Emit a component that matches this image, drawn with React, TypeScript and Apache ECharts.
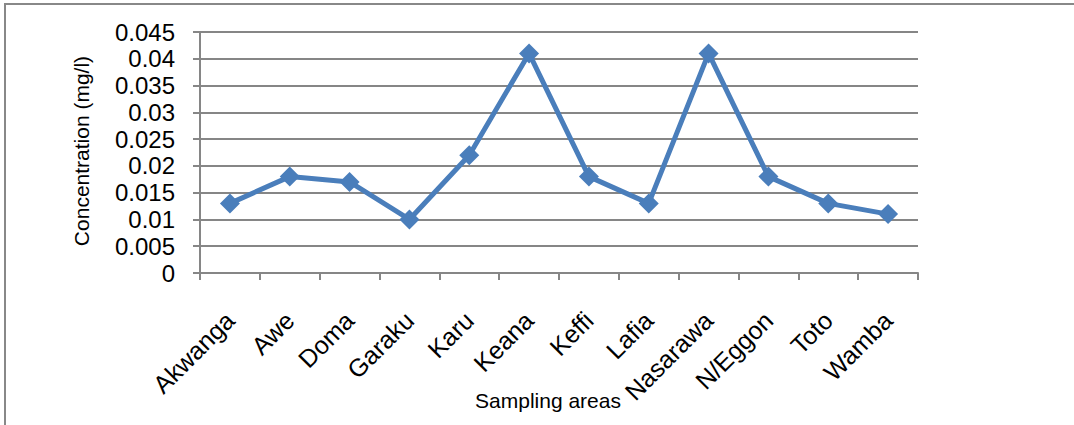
import React, { useEffect, useRef } from "react";
import * as echarts from "echarts";

const categories = ["Akwanga", "Awe", "Doma", "Garaku", "Karu", "Keana", "Keffi", "Lafia", "Nasarawa", "N/Eggon", "Toto", "Wamba"];
const concentration = [0.013, 0.018, 0.017, 0.010, 0.022, 0.041, 0.018, 0.013, 0.041, 0.018, 0.013, 0.011];
const yTicks = { min: 0, max: 0.045, interval: 0.005 };
const yTitle = "Concentration (mg/l)";
const xTitle = "Sampling areas";

export default function App() {
  const ref = useRef<HTMLDivElement>(null);
  useEffect(() => {
    if (!ref.current) return;
    const chart = echarts.init(ref.current, undefined, { renderer: "svg" });
    const font = "'Liberation Sans', Arial, sans-serif";
    chart.setOption({
      animation: false,
      backgroundColor: "#ffffff",
      grid: { left: 200, right: 156, top: 32, bottom: 152, containLabel: false },
      xAxis: {
        type: "category",
        data: categories,
        boundaryGap: true,
        axisLine: { lineStyle: { color: "#868686", width: 2 } },
        axisTick: { show: true, length: 7, alignWithLabel: false, lineStyle: { color: "#868686", width: 2 } },
        axisLabel: { rotate: 45, fontSize: 25, color: "#000", fontFamily: font, margin: 43, interval: 0 },
        splitLine: { show: false },
      },
      yAxis: {
        type: "value",
        min: yTicks.min,
        max: yTicks.max,
        interval: yTicks.interval,
        axisLine: { show: true, lineStyle: { color: "#868686", width: 2 } },
        axisTick: { show: true, length: 7, lineStyle: { color: "#868686", width: 2 } },
        axisLabel: {
          fontSize: 24,
          color: "#000",
          fontFamily: font,
          margin: 25,
          formatter: (v: number) => String(parseFloat(v.toFixed(3))),
        },
        splitLine: { show: true, lineStyle: { color: "#868686", width: 2 } },
      },
      graphic: [
        {
          type: "rect",
          shape: { x: 5, y: 4, width: 1200, height: 600 },
          style: { fill: "none", stroke: "#888888", lineWidth: 2 },
          silent: true,
        },
        {
          type: "text",
          x: 81,
          y: 151,
          rotation: Math.PI / 2,
          style: { text: yTitle, fontSize: 21, fontFamily: font, fill: "#000", align: "center", verticalAlign: "middle" },
        },
        {
          type: "text",
          x: 548,
          y: 400,
          style: { text: xTitle, fontSize: 21, fontFamily: font, fill: "#000", align: "center", verticalAlign: "middle" },
        },
      ],
      series: [
        {
          type: "line",
          data: concentration,
          symbol: "diamond",
          symbolSize: 20,
          lineStyle: { color: "#4a7ebb", width: 5 },
          itemStyle: { color: "#4a7ebb" },
        },
      ],
    });
    return () => chart.dispose();
  }, []);
  return <div ref={ref} style={{ position: "absolute", left: 0, top: 0, width: 1074, height: 425 }} />;
}
